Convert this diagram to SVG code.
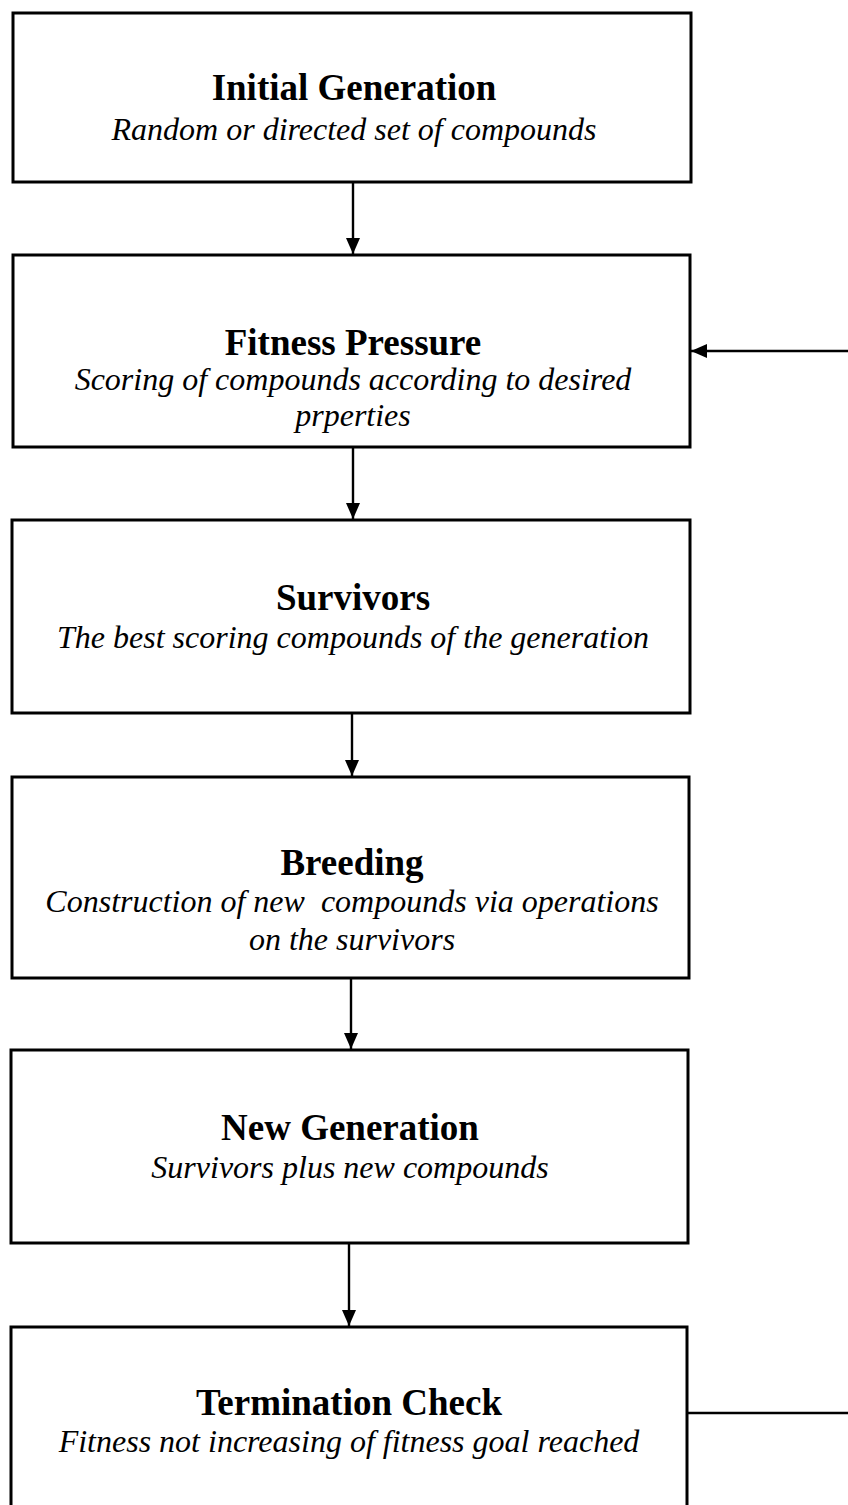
<svg xmlns="http://www.w3.org/2000/svg" width="848" height="1505" viewBox="0 0 848 1505">
<defs>
<style>
.box{fill:#fff;stroke:#000;stroke-width:3}
.t{font-family:"Liberation Serif","Times New Roman",serif;font-weight:bold;font-size:37px;text-anchor:middle;fill:#000}
.s{font-family:"Liberation Serif","Times New Roman",serif;font-style:italic;font-size:32px;text-anchor:middle;fill:#000}
.c{stroke:#000;stroke-width:2.4;fill:none}
</style>
<marker id="ah" viewBox="0 0 16 14" refX="16" refY="7" markerWidth="16" markerHeight="14" markerUnits="userSpaceOnUse" orient="auto">
<path d="M0,0 L16,7 L0,14 z" fill="#000"/>
</marker>
</defs>
<rect width="848" height="1505" fill="#fff"/>
<g id="connectors">
<line class="c" x1="353" y1="182" x2="353" y2="254" marker-end="url(#ah)"/>
<line class="c" x1="353" y1="447" x2="353" y2="519" marker-end="url(#ah)"/>
<line class="c" x1="352" y1="713" x2="352" y2="776" marker-end="url(#ah)"/>
<line class="c" x1="351" y1="978" x2="351" y2="1049" marker-end="url(#ah)"/>
<line class="c" x1="349" y1="1243" x2="349" y2="1326" marker-end="url(#ah)"/>
<line class="c" x1="848" y1="351" x2="691" y2="351" marker-end="url(#ah)"/>
<line class="c" x1="687" y1="1413" x2="848" y2="1413"/>
</g>
<g id="initial-generation">
<rect class="box" x="13" y="13" width="678" height="169"/>
<text class="t" x="354" y="100">Initial Generation</text>
<text class="s" x="354" y="140">Random or directed set of compounds</text>
</g>
<g id="fitness-pressure">
<rect class="box" x="13" y="255" width="677" height="192"/>
<text class="t" x="353" y="355">Fitness Pressure</text>
<text class="s" x="353" y="390">Scoring of compounds according to desired</text>
<text class="s" x="353" y="426">prperties</text>
</g>
<g id="survivors">
<rect class="box" x="12" y="520" width="678" height="193"/>
<text class="t" x="353" y="610">Survivors</text>
<text class="s" x="353" y="648">The best scoring compounds of the generation</text>
</g>
<g id="breeding">
<rect class="box" x="12" y="777" width="677" height="201"/>
<text class="t" x="352" y="875">Breeding</text>
<text class="s" x="352" y="912" xml:space="preserve">Construction of new  compounds via operations</text>
<text class="s" x="352" y="950">on the survivors</text>
</g>
<g id="new-generation">
<rect class="box" x="11" y="1050" width="677" height="193"/>
<text class="t" x="350" y="1140">New Generation</text>
<text class="s" x="350" y="1178">Survivors plus new compounds</text>
</g>
<g id="termination-check">
<rect class="box" x="11" y="1327" width="676" height="200"/>
<text class="t" x="349" y="1415">Termination Check</text>
<text class="s" x="349" y="1452">Fitness not increasing of fitness goal reached</text>
</g>
</svg>
